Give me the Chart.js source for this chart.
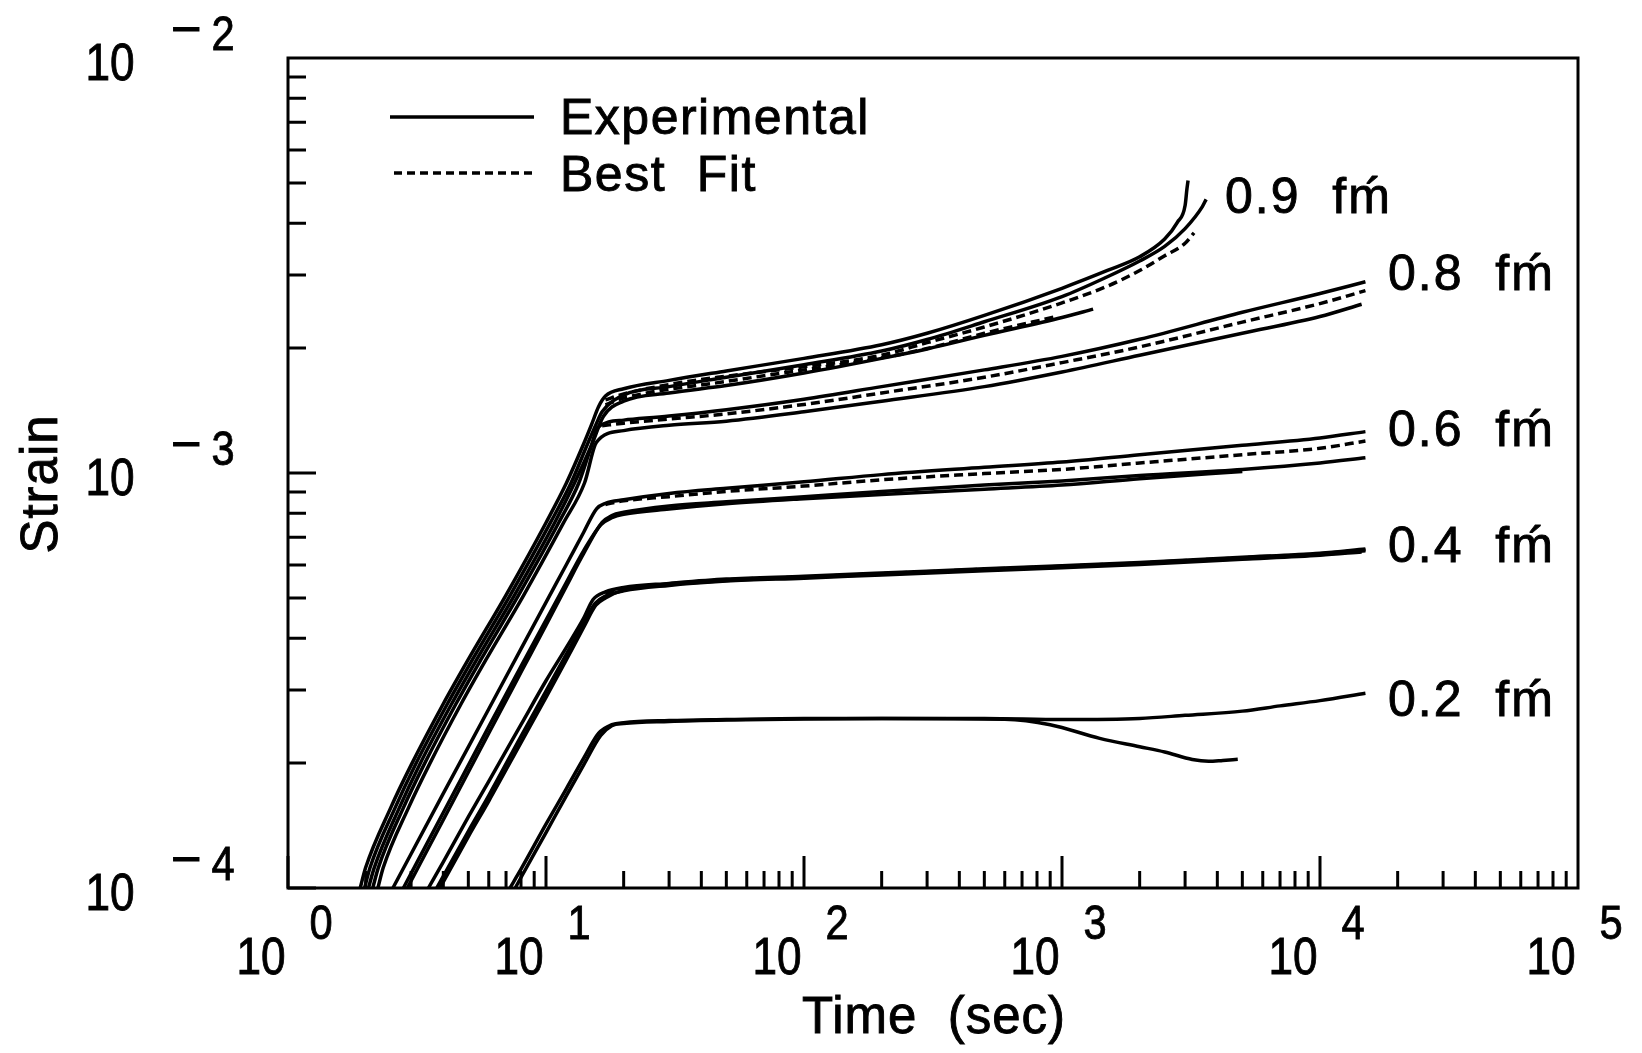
<!DOCTYPE html>
<html>
<head>
<meta charset="utf-8">
<script src="https://cdn.jsdelivr.net/npm/chart.js@4.4.1/dist/chart.umd.min.js"></script>
<style>
  html, body { margin: 0; padding: 0; background: #fff; }
</style>
</head>
<body>
<canvas id="creepChart" width="1642" height="1053"></canvas>
<script>
/*
Data: [time (sec), strain x 1e-4]
*/
var exp09a = [[1.905,1.00],[2,1.12],[2.5,1.56],[3,1.977],[4,2.779],[5,3.554],[7,5.08],[10,7.59],[12,9.46],[14,11.76],[15,13.06],[16,14.46],[17,15.32],[20,15.96],[30,16.72],[50,17.62],[100,18.89],[200,20.37],[300,21.71],[500,23.97],[1000,27.87],[1500,30.76],[2000,33.18],[2500,36.62],[2800,40.18],[3000,44.1],[3050,48.4],[3080,50.7]];
var exp09b = [[1.98,1.00],[2.08,1.12],[2.6,1.56],[3.11,1.977],[4.15,2.779],[5.19,3.554],[7.27,5.08],[10.4,7.59],[12.5,9.46],[14.5,11.76],[15.6,13.06],[16.5,14.04],[20,15.41],[30,16.15],[50,17.01],[100,18.24],[200,19.67],[300,20.97],[500,23.14],[1000,26.61],[1500,29.71],[2000,32.42],[2500,35.16],[3000,38.81],[3500,43.85],[3620,45.65]];
var exp09c = [[2.05,1.00],[2.16,1.12],[2.7,1.56],[3.23,1.977],[4.31,2.779],[5.39,3.554],[7.55,5.08],[10.8,7.59],[12.9,9.46],[15.1,11.76],[16.7,13.7],[20,14.89],[30,15.59],[50,16.24],[100,17.41],[200,18.89],[300,19.9],[500,21.46],[1000,23.69],[1320,24.82]];
var fit09 = [[17,15.0],[20,15.5],[30,16.34],[50,17.11],[100,18.03],[200,19.22],[300,20.61],[500,22.48],[1000,25.7],[1500,28.2],[2000,30.76],[2500,33.38],[3000,35.77],[3250,37.92]];
var fit09c = [[17,14.6],[20,15.15],[50,16.62],[100,17.72],[200,18.94],[300,19.95],[500,21.71],[950,23.82]];

var exp08a = [[2.13,1.00],[2.24,1.12],[2.8,1.56],[3.36,1.977],[4.48,2.779],[5.6,3.554],[7.83,5.08],[11.2,7.59],[13.4,9.46],[14.8,11.33],[15.9,12.88],[20,13.41],[30,13.72],[50,14.21],[100,15.06],[200,16.15],[500,17.72],[1000,19.1],[2000,21.0],[5000,24.39],[10000,27.07],[15000,28.9]];
var fit08 = [[16.5,13.0],[20,13.18],[30,13.49],[50,13.88],[100,14.63],[200,15.59],[500,17.01],[1000,18.45],[2000,20.13],[5000,23.1],[10000,25.6],[15000,27.5]];
var exp08b = [[2.23,1.00],[2.34,1.12],[2.93,1.56],[3.52,1.977],[4.69,2.779],[5.86,3.554],[8.2,5.08],[11.7,7.59],[14.1,9.46],[15.7,11.87],[20,12.65],[30,13.03],[50,13.33],[100,14.04],[200,14.89],[500,16.15],[1000,17.52],[2000,19.22],[5000,21.71],[10000,23.82],[14500,25.5]];

var exp06a = [[2.55,1.0],[4,1.69],[6,2.70],[8,3.77],[10,4.88],[12,6.02],[14,7.2],[15.7,8.2],[17,8.45],[20,8.62],[30,8.93],[50,9.19],[100,9.52],[200,9.91],[500,10.32],[1000,10.63],[2000,11.07],[5000,11.66],[10000,12.15],[15000,12.58]];
var fit06 = [[17,8.4],[20,8.57],[30,8.77],[50,9.03],[100,9.3],[200,9.63],[500,9.97],[1000,10.2],[2000,10.57],[5000,11.07],[10000,11.47],[15000,11.94]];
var exp06b = [[2.9,1.0],[4,1.46],[6,2.36],[8,3.31],[10,4.30],[12,5.34],[14,6.40],[16.5,7.6],[18,7.9],[20,8.04],[30,8.33],[50,8.52],[100,8.77],[200,9.03],[500,9.35],[1000,9.57],[2000,9.86],[5000,10.2],[10000,10.57],[15000,10.88]];
var exp06c = [[2.8,1.0],[4,1.52],[6,2.45],[8,3.42],[10,4.42],[12,5.45],[14,6.5],[16.3,7.5],[18,7.8],[20,7.95],[30,8.19],[50,8.43],[100,8.67],[200,8.88],[500,9.14],[1000,9.35],[2000,9.69],[5000,10.09]];

var exp04a = [[3.5,1.0],[4,1.156],[5,1.484],[6,1.808],[8,2.475],[10,3.158],[12,3.80],[14,4.47],[15.2,4.95],[17,5.17],[20,5.30],[30,5.42],[50,5.55],[100,5.64],[200,5.74],[500,5.88],[1000,5.98],[2000,6.09],[5000,6.27],[10000,6.41],[15000,6.56]];
var fit04 = [[17,5.12],[20,5.27],[30,5.4],[50,5.53],[100,5.62],[200,5.72],[500,5.86],[1000,5.96],[2000,6.07],[5000,6.25],[10000,6.39],[15000,6.53]];
var exp04b = [[3.77,1.0],[5,1.37],[6,1.67],[8,2.32],[10,2.98],[12,3.66],[14,4.35],[15.5,4.85],[17,5.05],[20,5.2],[30,5.36],[50,5.49],[100,5.58],[200,5.68],[500,5.81],[1000,5.91],[2000,6.02],[5000,6.2],[10000,6.34],[14500,6.45]];
var exp04c = [[3.88,1.0],[5,1.33],[6,1.62],[8,2.24],[10,2.88],[12,3.55],[14,4.25],[15.6,4.8],[17,5.0],[20,5.22],[30,5.38],[50,5.51],[100,5.6],[200,5.7],[500,5.84],[1000,5.94],[2000,6.05],[5000,6.22],[10000,6.36],[15000,6.5]];

var exp02a = [[7.25,1.0],[8,1.11],[10,1.425],[12,1.736],[14,2.055],[16,2.36],[18,2.475],[20,2.503],[30,2.532],[50,2.547],[100,2.562],[200,2.562],[500,2.562],[1000,2.547],[2000,2.562],[3000,2.607],[5000,2.668],[7000,2.747],[10000,2.828],[15000,2.945]];
var exp02b = [[7.6,1.0],[8,1.06],[10,1.36],[12,1.67],[14,1.98],[16.3,2.33],[18,2.46],[20,2.49],[30,2.52],[50,2.54],[100,2.555],[200,2.56],[600,2.55],[900,2.475],[1400,2.294],[2000,2.19],[2500,2.127],[3200,2.04],[3700,2.02],[4200,2.03],[4800,2.043]];

var experimental = [exp09a, exp09b, exp09c, exp08a, exp08b, exp06a, exp06b, exp06c, exp04a, exp04b, exp04c, exp02a, exp02b];
var bestFit = [fit09, fit09c, fit08, fit06, fit04];

var xTickExponents = [0, 1, 2, 3, 4, 5];
var yTickExponents = [-4, -3, -2];
var stressLevels = ['0.9', '0.8', '0.6', '0.4', '0.2'];
var legendNames = ['Experimental', 'Best  Fit'];

var STRAIN_UNIT = 1e-4;
var FONT = "'Liberation Sans', 'DejaVu Sans', sans-serif";

// where the stress level labels sit (canvas px)
var levelLabelPos = [[1225, 213], [1388, 290], [1388, 446], [1388, 562], [1388, 716]];

function toPoints(arr) {
    return arr.map(function (p) { return { x: p[0], y: p[1] * STRAIN_UNIT }; });
}

function text(ctx, str, x, y, size, align, sx, spacing) {
    ctx.save();
    ctx.font = size + 'px ' + FONT;
    ctx.textAlign = align;
    ctx.textBaseline = 'alphabetic';
    ctx.letterSpacing = (spacing || 0) + 'px';
    ctx.translate(x, y);
    ctx.scale(sx || 1, 1);
    ctx.lineWidth = 0.9;
    ctx.fillText(str, 0, 0);
    ctx.strokeText(str, 0, 0);
    ctx.restore();
}

var decorations = {
    id: 'decorations',
    afterDraw: function (chart) {
        var ctx = chart.ctx;
        var a = chart.chartArea;
        var xs = chart.scales.x, ys = chart.scales.y;
        ctx.save();
        ctx.strokeStyle = '#000';
        ctx.fillStyle = '#000';

        // frame
        ctx.lineWidth = 3;
        ctx.strokeRect(a.left, a.top, a.right - a.left, a.bottom - a.top);

        // inward log ticks
        ctx.lineWidth = 3;
        ctx.beginPath();
        for (var e = 0; e < 5; e++) {
            for (var k = 1; k < 10; k++) {
                var px = xs.getPixelForValue(k * Math.pow(10, e));
                var len = k === 1 ? 32 : 17;
                ctx.moveTo(px, a.bottom);
                ctx.lineTo(px, a.bottom - len);
            }
        }
        for (var e2 = -4; e2 < -2; e2++) {
            for (var k2 = 1; k2 < 10; k2++) {
                var py = ys.getPixelForValue(k2 * Math.pow(10, e2));
                var len2 = k2 === 1 ? 28 : 18;
                ctx.moveTo(a.left, py);
                ctx.lineTo(a.left + len2, py);
            }
        }
        ctx.stroke();

        // tick labels 10^n
        xTickExponents.forEach(function (n) {
            var px = xs.getPixelForValue(Math.pow(10, n));
            text(ctx, '10', px - 27, 974, 52, 'center', 0.85);
            text(ctx, String(n), px + 33, 939, 49, 'center', 0.85);
        });
        yTickExponents.forEach(function (n) {
            var py = ys.getPixelForValue(Math.pow(10, n));
            text(ctx, '10', 110, py + 22, 52, 'center', 0.85);
            text(ctx, '\u2212', 186, py - 12, 50, 'center', 1.05);
            text(ctx, String(-n), 223, py - 8, 49, 'center', 0.85);
        });

        // axis titles
        text(ctx, 'Time  (sec)', 934, 1033, 51, 'center', 1, 1);
        ctx.save();
        ctx.translate(57, 484);
        ctx.rotate(-Math.PI / 2);
        text(ctx, 'Strain', 0, 0, 51, 'center', 1, 1);
        ctx.restore();

        // legend
        ctx.lineWidth = 3.5;
        ctx.beginPath();
        ctx.moveTo(390, 117);
        ctx.lineTo(534, 117);
        ctx.stroke();
        ctx.setLineDash([8, 5]);
        ctx.beginPath();
        ctx.moveTo(394, 173);
        ctx.lineTo(534, 173);
        ctx.stroke();
        ctx.setLineDash([]);
        text(ctx, legendNames[0], 560, 134, 50, 'left', 1, 1.5);
        text(ctx, legendNames[1], 560, 191, 50, 'left', 1, 1.5);

        // stress level labels
        stressLevels.forEach(function (lv, i) {
            var p = levelLabelPos[i];
            text(ctx, lv + '  f\u1E3F', p[0], p[1], 50, 'left', 1, 2);
        });
        ctx.restore();
    }
};

function buildChart() {
    var datasets = [];
    experimental.forEach(function (c) {
        datasets.push({
            data: toPoints(c),
            showLine: true,
            borderColor: '#000',
            borderWidth: 3.5,
            pointRadius: 0,
            cubicInterpolationMode: 'monotone'
        });
    });
    bestFit.forEach(function (c) {
        datasets.push({
            data: toPoints(c),
            showLine: true,
            borderColor: '#000',
            borderWidth: 3.5,
            borderDash: [9, 5],
            pointRadius: 0,
            cubicInterpolationMode: 'monotone'
        });
    });

    var ctx = document.getElementById('creepChart').getContext('2d');
    new Chart(ctx, {
        type: 'scatter',
        data: { datasets: datasets },
        options: {
            responsive: false,
            animation: false,
            devicePixelRatio: 1,
            layout: { padding: { top: 58, right: 64, left: 0, bottom: 0 } },
            plugins: { legend: { display: false }, tooltip: { enabled: false } },
            scales: {
                x: {
                    type: 'logarithmic',
                    min: 1,
                    max: 100000,
                    ticks: { display: false },
                    grid: { display: false },
                    border: { display: false },
                    afterFit: function (s) { s.height = 165; }
                },
                y: {
                    type: 'logarithmic',
                    min: 1e-4,
                    max: 1e-2,
                    ticks: { display: false },
                    grid: { display: false },
                    border: { display: false },
                    afterFit: function (s) { s.width = 288; }
                }
            }
        },
        plugins: [decorations]
    });
}

buildChart();
</script>
</body>
</html>
